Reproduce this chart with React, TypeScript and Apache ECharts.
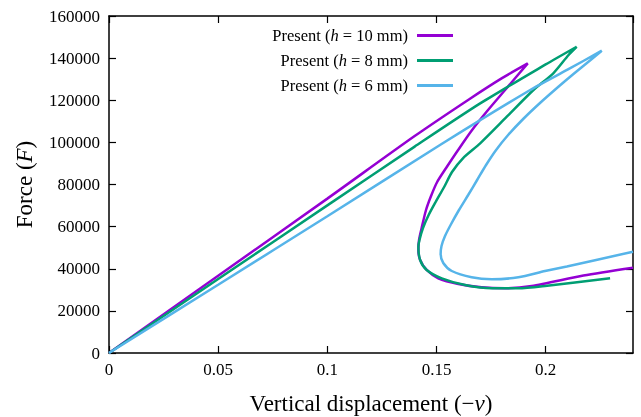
import React, { useEffect, useRef } from "react";
import * as echarts from "echarts";

const xTicks = [0, 0.05, 0.1, 0.15, 0.2];
const yTicks = [0, 20000, 40000, 60000, 80000, 100000, 120000, 140000, 160000];

const h10Disp = [0, 0.05, 0.1, 0.14, 0.165, 0.18, 0.1918, 0.1814, 0.1736, 0.1663, 0.1599, 0.1544, 0.1503, 0.1475, 0.1452, 0.1432, 0.142, 0.1417, 0.1425, 0.1455, 0.1508, 0.16, 0.1707, 0.1814, 0.1936, 0.2173, 0.24];
const h10Force = [0, 36700, 73300, 103000, 120500, 130500, 137500, 124860, 115370, 105870, 96380, 87830, 81190, 74540, 67890, 59350, 53650, 48900, 44150, 39410, 35460, 32760, 31190, 30720, 31810, 36800, 40500];

const h8Disp = [0, 0.05, 0.1, 0.14, 0.17, 0.2, 0.2142, 0.2105, 0.2035, 0.1944, 0.1822, 0.17, 0.1622, 0.1571, 0.1535, 0.1496, 0.1464, 0.1438, 0.1422, 0.1417, 0.1425, 0.1455, 0.1524, 0.1631, 0.1753, 0.1875, 0.1997, 0.2295];
const h8Force = [0, 35100, 70100, 98000, 118500, 137000, 145400, 141500, 132800, 124860, 112190, 99560, 92580, 85930, 78810, 71690, 65520, 59350, 53650, 50470, 44150, 39410, 35460, 32280, 30720, 30720, 31810, 35460];

const h6Disp = [0, 0.05, 0.1, 0.1516, 0.1929, 0.21, 0.2257, 0.2203, 0.213, 0.2057, 0.1974, 0.1897, 0.1828, 0.1773, 0.1727, 0.1686, 0.1645, 0.1603, 0.1567, 0.1539, 0.1523, 0.1519, 0.1531, 0.157, 0.1661, 0.1753, 0.1875, 0.1997, 0.2097, 0.24];
const h6Force = [0, 32400, 64900, 98750, 124860, 134500, 143530, 138870, 132700, 126290, 118690, 111100, 103500, 96380, 89260, 82130, 75010, 67890, 61250, 55550, 50800, 47000, 42730, 38930, 35940, 34990, 35940, 38900, 41100, 48090];

const seriesNames = ["h10", "h8", "h6"];
const legendLabels = ["Present ({i|h} = 10 mm)", "Present ({i|h} = 8 mm)", "Present ({i|h} = 6 mm)"];
const colors = ["#9400D3", "#009E73", "#56B4E9"];

const FONT = "'Liberation Serif', 'DejaVu Serif', serif";

const zip = (xs: number[], ys: number[]) => xs.map((x, i) => [x, ys[i]]);

export default function App() {
  const ref = useRef<HTMLDivElement>(null);
  useEffect(() => {
    if (!ref.current) return;
    const chart = echarts.init(ref.current, undefined, { renderer: "svg" });
    const datas = [zip(h10Disp, h10Force), zip(h8Disp, h8Force), zip(h6Disp, h6Force)];
    const axisLine = () => ({ show: true, onZero: false, lineStyle: { color: "#000", width: 1.5 } });
    const tick = () => ({ show: true, inside: true, length: 7, lineStyle: { color: "#000", width: 1.2 } });
    const xBase = () => ({ type: "value", min: xTicks[0], max: 0.24, interval: 0.05, splitLine: { show: false }, axisLine: axisLine(), axisTick: tick() });
    const yBase = () => ({ type: "value", min: yTicks[0], max: yTicks[yTicks.length - 1], interval: 20000, splitLine: { show: false }, axisLine: axisLine(), axisTick: tick() });
    const titleStyle = { color: "#000", fontFamily: FONT, fontSize: 23, rich: { i: { fontStyle: "italic", fontFamily: FONT, fontSize: 23, color: "#000" } } };
    const rich = { i: { fontStyle: "italic", fontFamily: FONT, fontSize: 16.5, color: "#000" } };
    chart.setOption({
      animation: false,
      grid: { left: 109, right: 8, top: 16, bottom: 64, containLabel: false, outerBoundsMode: "none" },
      xAxis: [
        {
          ...xBase(),
          position: "bottom",
          axisLabel: { showMaxLabel: false, color: "#000", fontFamily: FONT, fontSize: 17, margin: 8 },
          name: "Vertical displacement (−{i|v})",
          nameLocation: "middle",
          nameGap: 39,
          nameTextStyle: titleStyle,
        },
        { ...xBase(), position: "top", axisLabel: { show: false } },
      ],
      yAxis: [
        {
          ...yBase(),
          position: "left",
          axisLabel: { color: "#000", fontFamily: FONT, fontSize: 17, margin: 9, formatter: (v: number) => String(v) },
          name: "Force ({i|F})",
          nameLocation: "middle",
          nameGap: 73,
          nameTextStyle: titleStyle,
        },
        { ...yBase(), position: "right", axisLabel: { show: false } },
      ],
      legend: seriesNames.map((n, k) => ({
        data: [n],
        right: 188,
        top: 27 + k * 25,
        padding: 0,
        align: "right",
        icon: "rect",
        itemWidth: 36,
        itemHeight: 3,
        formatter: () => legendLabels[k],
        textStyle: { color: "#000", fontFamily: FONT, fontSize: 16.5, rich, padding: [0, 4, 0, 0] },
      })),
      series: seriesNames.map((n, k) => ({
        name: n,
        type: "line",
        data: datas[k],
        smooth: 0.25,
        showSymbol: false,
        symbol: "none",
        color: colors[k],
        lineStyle: { width: 2.5, color: colors[k] },
        xAxisIndex: 0,
        yAxisIndex: 0,
      })),
    });
    return () => chart.dispose();
  }, []);
  return <div ref={ref} style={{ position: "fixed", left: 0, top: 0, width: 641, height: 417 }} />;
}
